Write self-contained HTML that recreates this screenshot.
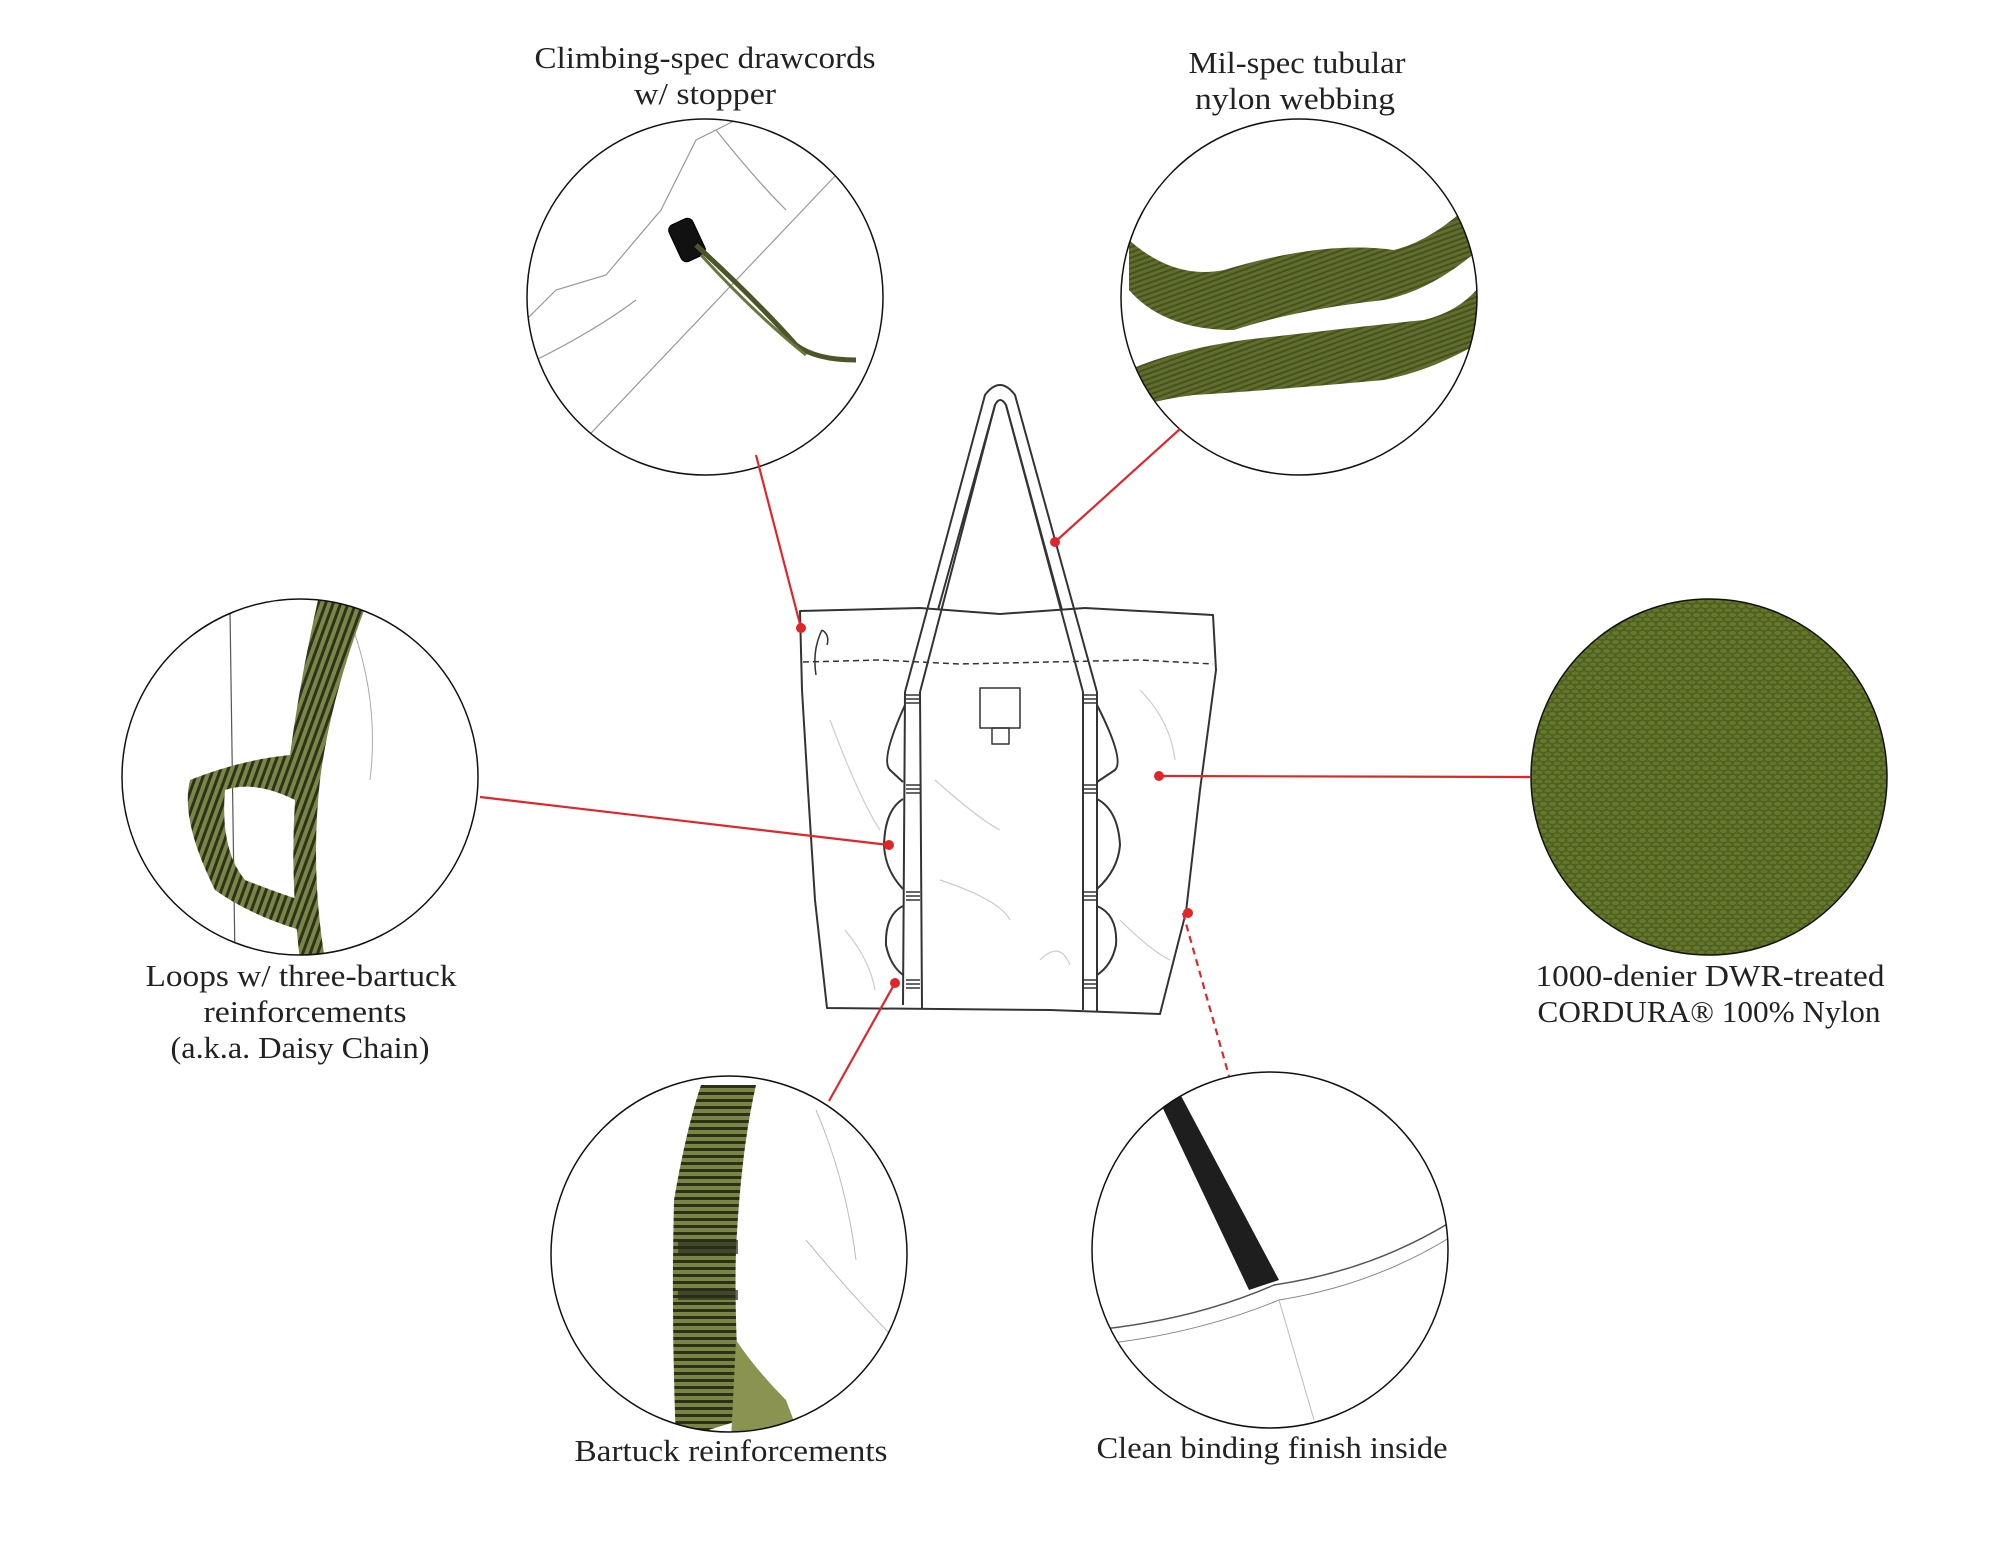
<!DOCTYPE html>
<html><head><meta charset="utf-8"><style>
html,body{margin:0;padding:0;background:#fff;}
svg{display:block;}
text{font-family:"Liberation Serif",serif;font-size:31px;fill:#222;text-anchor:middle;}
</style></head><body>
<svg width="2000" height="1545" viewBox="0 0 2000 1545" xmlns="http://www.w3.org/2000/svg">
<defs>
<pattern id="weave" width="9" height="9" patternUnits="userSpaceOnUse">
<rect width="9" height="9" fill="#4f6120"/>
<ellipse cx="4.5" cy="3" rx="3.5" ry="2" fill="#66792b"/>
<ellipse cx="0" cy="7.5" rx="3.5" ry="2" fill="#627528"/>
<ellipse cx="9" cy="7.5" rx="3.5" ry="2" fill="#627528"/>
</pattern>
<pattern id="stripe" width="7" height="7" patternUnits="userSpaceOnUse" patternTransform="rotate(20)">
<rect width="7" height="7" fill="#7a8548"/>
<rect width="3" height="7" fill="#2d3218"/>
</pattern>
<pattern id="stripeH" width="7" height="7" patternUnits="userSpaceOnUse">
<rect width="7" height="7" fill="#7a8445"/>
<rect width="7" height="3" fill="#2b3117"/>
</pattern>
<pattern id="web" width="5" height="5" patternUnits="userSpaceOnUse" patternTransform="rotate(70)">
<rect width="5" height="5" fill="#606d2c"/>
<rect width="2" height="5" fill="#46521e"/>
</pattern>
<clipPath id="c1"><circle cx="705" cy="297" r="178"/></clipPath>
<clipPath id="c2"><circle cx="1299" cy="297" r="178"/></clipPath>
<clipPath id="c3"><circle cx="300" cy="777" r="178"/></clipPath>
<clipPath id="c4"><circle cx="1709" cy="777" r="178"/></clipPath>
<clipPath id="c5"><circle cx="729" cy="1254" r="178"/></clipPath>
<clipPath id="c6"><circle cx="1270" cy="1250" r="178"/></clipPath>
</defs>

<!-- circle 1 drawcord -->
<g transform="translate(-4 0)">
<g clip-path="url(#c1)" transform="translate(4 0)"><g transform="translate(-4 0)" fill="none" stroke="#999" stroke-width="1.2">
<path d="M530 320 L560 290 L610 275 L665 210 L700 140 L740 120"/>
<path d="M560 470 L840 175"/>
<path d="M540 360 Q600 330 640 300"/>
<path d="M720 130 Q760 180 790 210"/>
<rect x="678" y="220" width="26" height="40" rx="6" transform="rotate(-25 691 240)" fill="#111" stroke="#000"/>
<path d="M700 245 Q760 300 800 345 Q820 360 860 360" stroke="#4a5528" stroke-width="5"/>
<path d="M705 255 Q760 315 810 355" stroke="#6b7540" stroke-width="3"/>
</g></g>
</g>
<circle cx="705" cy="297" r="178" fill="none" stroke="#111" stroke-width="1.5"/>

<!-- circle 2 webbing -->
<g clip-path="url(#c2)"><g transform="translate(-6 0)">
<path d="M1135 240 Q1180 280 1230 270 Q1330 240 1400 250 Q1440 240 1480 200 L1490 245 Q1440 290 1390 300 Q1300 310 1240 330 Q1170 330 1135 290 Z" fill="url(#web)"/>
<path d="M1135 370 Q1180 350 1250 340 Q1380 325 1430 320 Q1470 310 1490 280 L1490 340 Q1440 370 1390 380 Q1280 390 1200 395 Q1160 400 1135 410 Z" fill="url(#web)"/>
</g></g>
<circle cx="1299" cy="297" r="178" fill="none" stroke="#111" stroke-width="1.5"/>

<!-- circle 3 loops -->
<g clip-path="url(#c3)">
<path d="M230 610 L235 960" stroke="#555" stroke-width="1.2" fill="none"/>
<path d="M350 620 Q380 700 370 780" stroke="#aaa" stroke-width="1" fill="none"/>
<path d="M318 600 L365 608 Q330 700 320 780 Q310 870 325 960 L300 960 Q290 880 295 800 Q255 780 225 790 Q220 850 245 880 Q270 890 300 900 L300 930 Q250 915 215 890 Q180 820 190 780 Q240 760 290 755 Q300 680 318 600 Z" fill="url(#stripe)"/>
</g>
<circle cx="300" cy="777" r="178" fill="none" stroke="#111" stroke-width="1.5"/>

<!-- circle 4 cordura -->
<circle cx="1709" cy="777" r="178" fill="url(#weave)" stroke="#111" stroke-width="1.5"/>

<!-- circle 5 bartuck -->
<g clip-path="url(#c5)"><g transform="translate(-4 0)">
<path d="M820 1110 Q850 1180 860 1260" stroke="#bbb" stroke-width="1" fill="none"/>
<path d="M810 1240 Q860 1300 900 1340" stroke="#bbb" stroke-width="1" fill="none"/>
<path d="M705 1085 L760 1085 Q745 1150 740 1250 Q738 1320 745 1420 L680 1440 Q675 1320 678 1200 Q690 1130 705 1085 Z" fill="url(#stripeH)"/>
<path d="M740 1340 Q760 1370 790 1400 L805 1440 L735 1440 Z" fill="#8a9450"/>
<rect x="682" y="1240" width="60" height="14" fill="#2a2e1c" opacity="0.7"/>
<rect x="682" y="1290" width="60" height="10" fill="#2a2e1c" opacity="0.7"/>
</g></g>
<circle cx="729" cy="1254" r="178" fill="none" stroke="#111" stroke-width="1.5"/>

<!-- circle 6 binding -->
<g clip-path="url(#c6)"><g transform="translate(-6 0)">
<path d="M1100 1330 Q1200 1320 1280 1285 Q1380 1270 1460 1220" stroke="#555" stroke-width="1.5" fill="none"/>
<path d="M1100 1345 Q1200 1335 1285 1300 Q1380 1285 1460 1235" stroke="#888" stroke-width="1" fill="none"/>
<path d="M1285 1300 L1320 1420" stroke="#bbb" stroke-width="1" fill="none"/>
<path d="M1165 1100 L1185 1092 L1285 1280 L1255 1290 Z" fill="#1e1e1e"/>
</g></g>
<circle cx="1270" cy="1250" r="178" fill="none" stroke="#111" stroke-width="1.5"/>

<!-- bag -->
<g fill="none" stroke="#333" stroke-width="2" stroke-linejoin="round">
<path d="M800 611 L920 608 L1000 614 L1085 608 L1213 615 L1216 670 L1200 790 L1186 912 L1160 1014 L1050 1010 L827 1008 L815 900 L808 790 L802 690 Z" fill="#fff"/>
<path d="M803 662 L880 660 L960 664 L1050 662 L1140 660 L1213 664" stroke-dasharray="6 4" stroke-width="1.5"/>
<path d="M905 692 L985 395 Q1000 375 1015 395 L1097 692"/>
<path d="M920 692 L995 405 Q1000 395 1006 405 L1083 692"/>
<path d="M938 610 L995 405"/>
<path d="M1062 610 L1006 405"/>
<path d="M905 692 L903 1005 M920 692 L922 1008"/>
<path d="M1097 692 L1097 1012 M1083 692 L1083 1010"/>
<path d="M905 705 Q880 760 890 770 L903 782 M903 799 Q885 810 884 845 Q885 870 903 889 M903 906 Q885 915 886 945 Q890 965 903 975"/>
<path d="M1097 705 Q1125 760 1115 770 L1097 782 M1097 799 Q1118 810 1120 845 Q1118 870 1097 889 M1097 906 Q1118 915 1116 945 Q1112 965 1097 975"/>
<g stroke-width="1.5">
<path d="M906 695 H920 M906 699 H920 M906 703 H920 M906 785 H920 M906 789 H920 M906 793 H920 M906 892 H920 M906 896 H920 M906 900 H920 M906 980 H920 M906 984 H920 M906 988 H920"/>
<path d="M1083 695 H1097 M1083 699 H1097 M1083 703 H1097 M1083 785 H1097 M1083 789 H1097 M1083 793 H1097 M1083 892 H1097 M1083 896 H1097 M1083 900 H1097 M1083 980 H1097 M1083 984 H1097 M1083 988 H1097"/>
</g>
<rect x="980" y="688" width="40" height="40" stroke-width="1.5"/>
<rect x="992" y="728" width="17" height="16" stroke-width="1.5"/>
<path d="M822 630 Q812 650 816 675 M822 630 Q830 635 827 645" stroke-width="1.5"/>
</g>
<g fill="none" stroke="#ccc" stroke-width="1.2">
<path d="M830 720 Q860 800 880 830"/><path d="M935 780 Q980 820 1000 830"/>
<path d="M940 880 Q1000 900 1010 920"/><path d="M1140 690 Q1170 720 1175 760"/>
<path d="M845 930 Q870 960 875 990"/><path d="M1120 920 Q1150 950 1170 960"/>
<path d="M1040 960 Q1060 940 1070 965"/>
</g>

<!-- connectors -->
<g stroke="#e0262b" stroke-width="2.2" fill="none">
<path d="M756 455 L801 628"/>
<path d="M1180 429 L1055 542"/>
<path d="M480 797 L889 845"/>
<path d="M1530 777 L1156 776"/>
<path d="M829 1101 L895 983"/>
<path d="M1183 913 L1229 1076" stroke-dasharray="7 5"/>
</g>
<g fill="#e0262b">
<circle cx="801" cy="628" r="5"/><circle cx="1055" cy="542" r="5"/>
<circle cx="889" cy="845" r="5"/><circle cx="1159" cy="776" r="5"/>
<circle cx="895" cy="983" r="5"/><circle cx="1188" cy="913" r="5"/>
</g>

<!-- labels -->
<text x="705" y="68" textLength="341" lengthAdjust="spacingAndGlyphs">Climbing-spec drawcords</text>
<text x="705" y="104" textLength="142" lengthAdjust="spacingAndGlyphs">w/ stopper</text>
<text x="1297" y="73" textLength="217" lengthAdjust="spacingAndGlyphs">Mil-spec tubular</text>
<text x="1295" y="109" textLength="200" lengthAdjust="spacingAndGlyphs">nylon webbing</text>
<text x="301" y="986" textLength="311" lengthAdjust="spacingAndGlyphs">Loops w/ three-bartuck</text>
<text x="305" y="1022" textLength="203" lengthAdjust="spacingAndGlyphs">reinforcements</text>
<text x="300" y="1058" textLength="259" lengthAdjust="spacingAndGlyphs">(a.k.a. Daisy Chain)</text>
<text x="1710" y="986" textLength="349" lengthAdjust="spacingAndGlyphs">1000-denier DWR-treated</text>
<text x="1709" y="1022" textLength="343" lengthAdjust="spacingAndGlyphs">CORDURA® 100% Nylon</text>
<text x="731" y="1461" textLength="313" lengthAdjust="spacingAndGlyphs">Bartuck reinforcements</text>
<text x="1272" y="1458" textLength="351" lengthAdjust="spacingAndGlyphs">Clean binding finish inside</text>
</svg>
</body></html>
